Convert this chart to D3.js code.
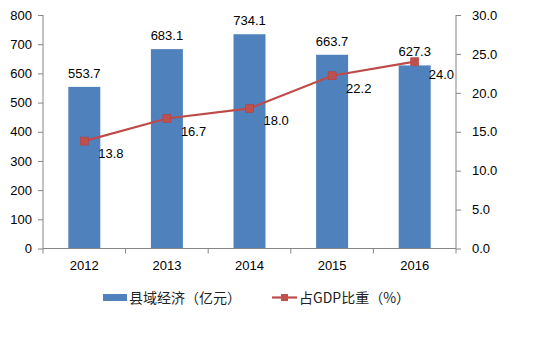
<!DOCTYPE html>
<html><head><meta charset="utf-8">
<script src="https://cdn.jsdelivr.net/npm/d3@7"></script>
<style>body{margin:0;background:#fff}svg{display:block}text{font-family:"Liberation Sans",Arial,sans-serif}</style>
</head><body>
<script>
const categories = ["2012","2013","2014","2015","2016"];
const barValues = [553.7,683.1,734.1,663.7,627.3];
const lineValues = [13.8,16.7,18.0,22.2,24.0];
const leftTicks = [0,100,200,300,400,500,600,700,800];
const rightTicks = [0,5,10,15,20,25,30];
const barName = "县域经济（亿元）";
const lineName = "占GDP比重（%）";

const W=540,H=342;
const svg=d3.select("body").append("svg").attr("width",W).attr("height",H);
const L=43,R=456,T=15,B=248.5;
const x=d3.scaleBand().domain(categories).range([L,R]);
const yL=d3.scaleLinear().domain([0,800]).range([B,T]);
const yR=d3.scaleLinear().domain([0,30]).range([B,T]);
const axisColor="#868686";
const fs=13;

// bars
const bw=32;
svg.selectAll("rect.bar").data(barValues).enter().append("rect")
 .attr("x",(d,i)=>x(categories[i])+x.bandwidth()/2-bw/2)
 .attr("y",d=>yL(d)).attr("width",bw).attr("height",d=>B-yL(d))
 .attr("fill","#4f81bd");

// left axis
const gl=svg.append("g").attr("transform",`translate(${L},0)`)
 .call(d3.axisLeft(yL).tickValues(leftTicks).tickSize(5).tickPadding(6).tickFormat(d3.format("d")));
// right axis
const gr=svg.append("g").attr("transform",`translate(${R},0)`)
 .call(d3.axisRight(yR).tickValues(rightTicks).tickSize(5).tickPadding(11).tickFormat(d3.format(".1f")));
// bottom axis
const gb=svg.append("g").attr("transform",`translate(0,${B})`)
 .call(d3.axisBottom(x).tickSize(0).tickPadding(12));
gb.append("g").selectAll("line").data(d3.range(categories.length+1)).enter().append("line")
 .attr("x1",i=>L+i*x.step()).attr("x2",i=>L+i*x.step()).attr("y1",0).attr("y2",5);
[gl,gr,gb].forEach(g=>{
 g.selectAll("path").attr("stroke",axisColor);
 g.selectAll("line").attr("stroke",axisColor);
 g.selectAll("text").attr("fill","#000").style("font-size",fs+"px").style("font-family",'"Liberation Sans",Arial,sans-serif');
});
gl.select("path").attr("d",`M0,${T}V${B}`);
gr.select("path").attr("d",`M0,${T}V${B}`);
gb.select("path").attr("d",`M${L},0H${R}`);

// bar labels
svg.selectAll("text.bl").data(barValues).enter().append("text")
 .attr("x",(d,i)=>x(categories[i])+x.bandwidth()/2).attr("y",d=>yL(d)-9)
 .attr("text-anchor","middle").style("font-size",fs+"px").text(d=>d.toFixed(1));

// line
const cx=i=>x(categories[i])+x.bandwidth()/2;
const line=d3.line().x((d,i)=>cx(i)).y(d=>yR(d));
svg.append("path").datum(lineValues).attr("d",line).attr("fill","none")
 .attr("stroke","#be4b48").attr("stroke-width",2.2);
svg.selectAll("rect.m").data(lineValues).enter().append("rect")
 .attr("x",(d,i)=>cx(i)-4).attr("y",d=>yR(d)-4).attr("width",8).attr("height",8)
 .attr("fill","#c0504d").attr("stroke","#b0413e").attr("stroke-width",0.6);
svg.selectAll("text.ll").data(lineValues).enter().append("text")
 .attr("x",(d,i)=>cx(i)+14).attr("y",d=>yR(d)+17)
 .style("font-size",fs+"px").text(d=>d.toFixed(1));

// legend
const lg=svg.append("g");
lg.append("rect").attr("x",103).attr("y",294).attr("width",24).attr("height",7).attr("fill","#4f81bd");
lg.append("text").attr("x",129).attr("y",303).style("font-size","14px")
 .style("font-family",'"Noto Sans CJK SC",sans-serif').attr("fill","#222").text(barName);
lg.append("line").attr("x1",272).attr("x2",297).attr("y1",297.5).attr("y2",297.5).attr("stroke","#be4b48").attr("stroke-width",2.2);
lg.append("rect").attr("x",281).attr("y",294).attr("width",7).attr("height",7).attr("fill","#c0504d");
lg.append("text").attr("x",299).attr("y",303).style("font-size","14px")
 .style("font-family",'"Noto Sans CJK SC",sans-serif').attr("fill","#222").text(lineName);
</script>
</body></html>
